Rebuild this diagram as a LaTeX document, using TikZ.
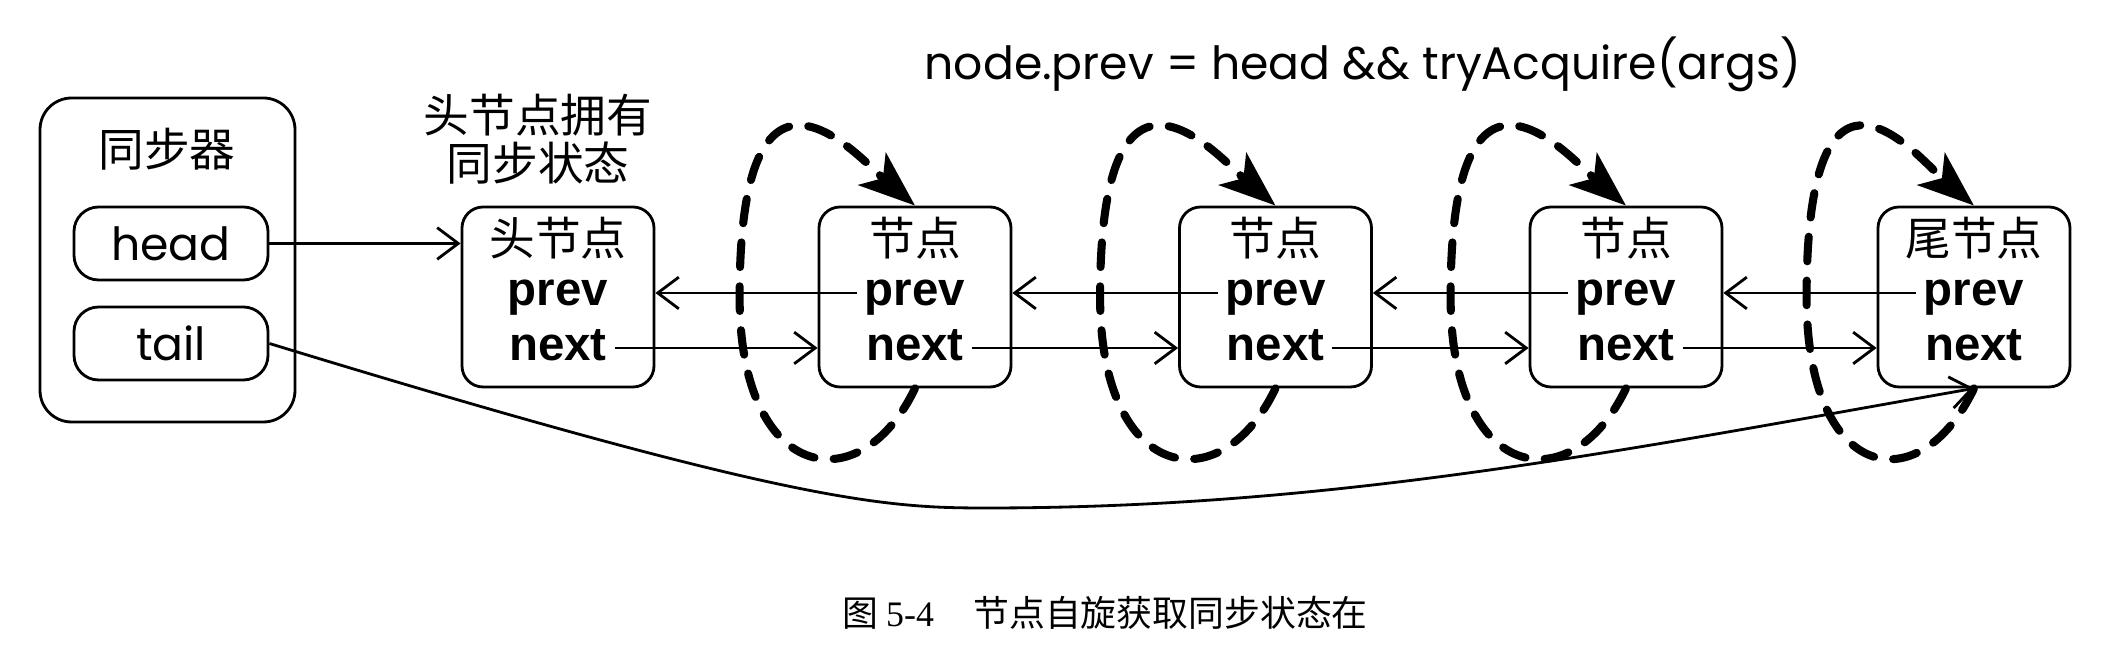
\documentclass[tikz,border=0pt]{standalone}
\usepackage{fontspec}
\setmainfont{Liberation Sans}
\newfontfamily\cjk{Noto Sans CJK SC}
\newfontfamily\geo{Poppins}
\newfontfamily\capserif{Liberation Serif}
\usetikzlibrary{arrows.meta,positioning}

\begin{document}
\begin{tikzpicture}[
  box/.style={draw, line width=0.8pt, rounded corners=6pt, minimum width=1.92cm, minimum height=1.80cm},
  field/.style={draw, line width=0.8pt, rounded corners=7pt, minimum width=1.94cm, minimum height=0.73cm, font=\geo\fontsize{13}{15}\selectfont},
  ttl/.style={font=\cjk\fontsize{13}{13.8}\selectfont},
  lbl/.style={font=\bfseries\fontsize{13.5}{15}\selectfont, inner xsep=2pt, inner ysep=0pt, text height=7pt, text depth=0pt},
  ptr/.style={line width=0.8pt, -{Straight Barb[length=6pt,width=9pt]}},
  spin/.style={line width=2.3pt, dash pattern=on 7pt off 5.5pt, line cap=round, -{Stealth[length=16pt,width=12pt,inset=4pt]}}
]
  \useasboundingbox (0,0) rectangle (21.26,-6.68);

  % synchronizer
  \node[draw, line width=0.8pt, rounded corners=9pt, minimum width=2.55cm, minimum height=3.24cm] (sync) at (1.675,-2.60) {};
  \node[ttl] (syncname) at (1.67,-1.49) {同步器};
  \node[field] (headf) at (1.71,-2.435) {head};
  \node[field] (tailf) at (1.71,-3.435) {tail};

  % queue nodes
  \node[box] (n1) at (5.58,-2.97) {};
  \node[box] (n2) at (9.15,-2.97) {};
  \node[box] (n3) at (12.755,-2.97) {};
  \node[box] (n4) at (16.26,-2.97) {};
  \node[box] (n5) at (19.74,-2.97) {};

  \node[ttl] (n1t) at (5.58,-2.38) {头节点};
  \node[ttl] (n2t) at (9.15,-2.38) {节点};
  \node[ttl] (n3t) at (12.755,-2.38) {节点};
  \node[ttl] (n4t) at (16.26,-2.38) {节点};
  \node[ttl] (n5t) at (19.74,-2.38) {尾节点};

  \node[lbl] (n1p) at (5.58,-2.93) {prev};
  \node[lbl] (n2p) at (9.15,-2.93) {prev};
  \node[lbl] (n3p) at (12.755,-2.93) {prev};
  \node[lbl] (n4p) at (16.26,-2.93) {prev};
  \node[lbl] (n5p) at (19.74,-2.93) {prev};

  \node[lbl] (n1n) at (5.58,-3.48) {next};
  \node[lbl] (n2n) at (9.15,-3.48) {next};
  \node[lbl] (n3n) at (12.755,-3.48) {next};
  \node[lbl] (n4n) at (16.26,-3.48) {next};
  \node[lbl] (n5n) at (19.74,-3.48) {next};

  % texts
  \node[ttl, align=center] (owner) at (5.38,-1.39) {头节点拥有\\同步状态};
  \node[font=\geo\fontsize{13}{15}\selectfont] (cond) at (13.63,-0.64) {node.prev = head \&\& tryAcquire(args)};
  \node[font=\cjk\fontsize{10.2}{12}\selectfont] (cap) at (11.05,-6.13) {图 {\capserif 5-4}\hspace{1.1em}节点自旋获取同步状态在};

  % links
  \draw[ptr] (headf.east) -- (n1.west |- headf.east);
  \draw[ptr] (n1n.east) -- (n2.west |- n1n.east);
  \draw[ptr] (n2n.east) -- (n3.west |- n2n.east);
  \draw[ptr] (n3n.east) -- (n4.west |- n3n.east);
  \draw[ptr] (n4n.east) -- (n5.west |- n4n.east);
  \draw[ptr] (n2p.west) -- (n1.east |- n2p.west);
  \draw[ptr] (n3p.west) -- (n2.east |- n3p.west);
  \draw[ptr] (n4p.west) -- (n3.east |- n4p.west);
  \draw[ptr] (n5p.west) -- (n4.east |- n5p.west);

  \coordinate (dip) at (9.87,-5.08);
  \draw[ptr] (tailf.east) .. controls +(-17:5.5) and +(-1,0) .. (dip)
    .. controls +(3.5,0) and +(190:3.5) .. (n5.south);

  % spinning
  \coordinate[left=0.78 of n2.west] (l2);
  \coordinate[left=0.78 of n3.west] (l3);
  \coordinate[left=0.78 of n4.west] (l4);
  \coordinate[left=0.70 of n5.west] (l5);
  \draw[spin] (n2.south) .. controls +(-0.55,-1.15) and +(0,-1.85) .. (l2)
    .. controls +(0,2.8) and +(-0.55,0.47) .. (n2.north);
  \draw[spin] (n3.south) .. controls +(-0.55,-1.15) and +(0,-1.85) .. (l3)
    .. controls +(0,2.8) and +(-0.55,0.47) .. (n3.north);
  \draw[spin] (n4.south) .. controls +(-0.55,-1.15) and +(0,-1.85) .. (l4)
    .. controls +(0,2.8) and +(-0.55,0.47) .. (n4.north);
  \draw[spin] (n5.south) .. controls +(-0.55,-1.15) and +(0,-1.85) .. (l5)
    .. controls +(0,2.8) and +(-0.55,0.47) .. (n5.north);
\end{tikzpicture}
\end{document}
